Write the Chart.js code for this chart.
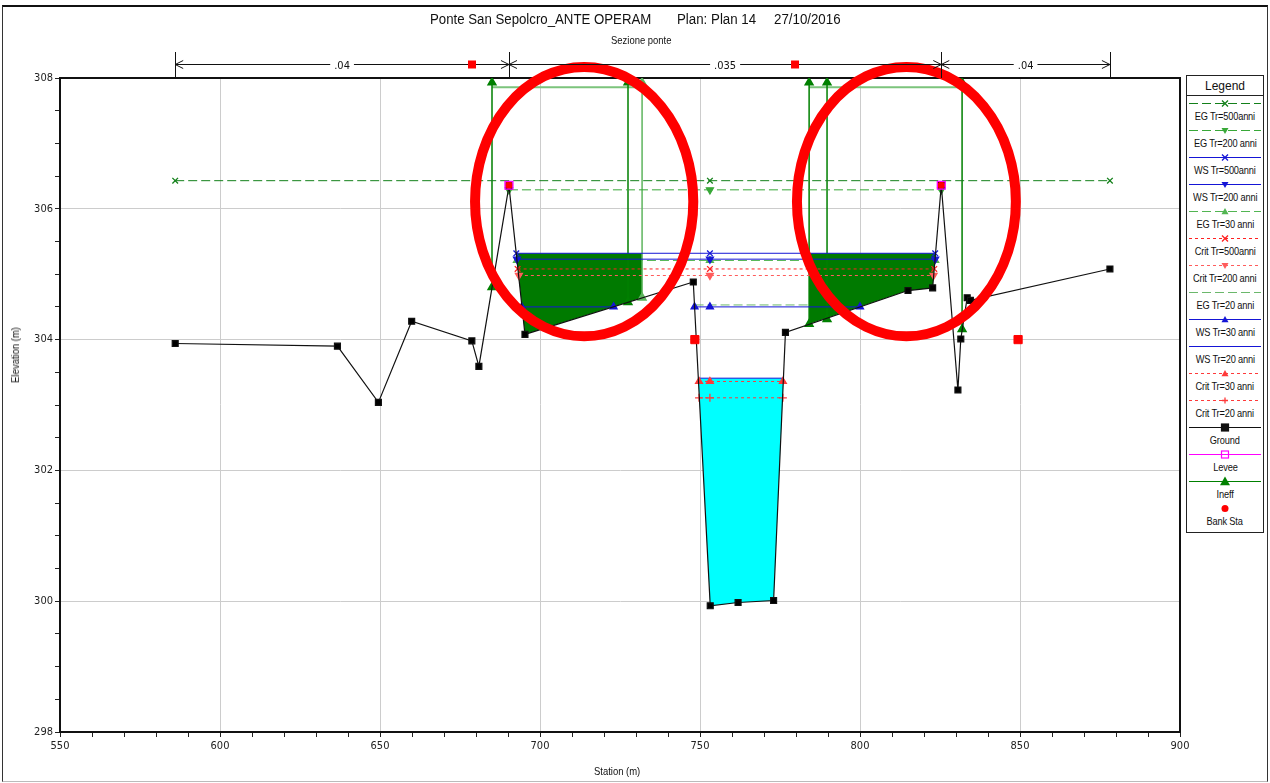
<!DOCTYPE html>
<html>
<head>
<meta charset="utf-8">
<title>Ponte San Sepolcro - Sezione ponte</title>
<script src="https://cdn.jsdelivr.net/npm/chart.js@4.4.1/dist/chart.umd.min.js"></script>
<style>
  html, body { margin: 0; padding: 0; background: #fff; }
  #page { position: relative; width: 1270px; height: 783px; overflow: hidden; font-family: 'Liberation Sans', Arial, sans-serif; color: #111; }
  #frame { position: absolute; left: 2px; top: 5px; width: 1266px; height: 777px; box-sizing: border-box; border: 1px solid #333; border-top: 2px solid #111; border-bottom-color: #bbb; }
  #chart { position: absolute; left: 0; top: 0; }
  .txt { position: absolute; white-space: nowrap; }
  .sq { display: inline-block; transform: scaleX(0.86); transform-origin: left center; }
  .ttl { top: 11px; font-size: 14px; }
  #legend { position: absolute; left: 1186px; top: 75px; width: 78px; height: 458px; box-sizing: border-box; border: 1px solid #222; background: #fff; }
  #legend .head { height: 20px; line-height: 20px; text-align: center; font-size: 12px; border-bottom: 1px solid #222; box-sizing: border-box; }
  .item { position: relative; height: 27px; }
  .item svg { position: absolute; left: 0; top: 2px; }
  .item .lab { position: absolute; left: 0; right: 0; top: 13px; display: flex; justify-content: center; font-size: 11px; line-height: 14px; white-space: nowrap; }
  .item .lab span { display: inline-block; transform: scaleX(0.84); letter-spacing: -0.2px; }
</style>
</head>
<body>
<div id="page">
  <div id="frame"></div>
  <canvas id="chart" width="1270" height="783"></canvas>
  <div class="txt ttl" style="left:430px"><span class="sq" style="transform:scaleX(0.945)">Ponte San Sepolcro_ANTE OPERAM</span></div>
  <div class="txt ttl" style="left:677px"><span class="sq" style="transform:scaleX(0.95)">Plan: Plan 14</span></div>
  <div class="txt ttl" style="left:774px"><span class="sq" style="transform:scaleX(0.95)">27/10/2016</span></div>
  <div class="txt" style="left:611px;top:34px;font-size:11px"><span class="sq">Sezione ponte</span></div>
  <div class="txt" style="left:15px;top:355px;font-size:11px;transform:translate(-50%,-50%) rotate(-90deg)"><span style="display:inline-block;transform:scaleX(0.86)">Elevation (m)</span></div>
  <div class="txt" style="left:594px;top:765px;font-size:11px"><span class="sq">Station (m)</span></div>
  <div id="legend"><div class="head">Legend</div><div id="items"></div></div>
</div>
<script>
// ground profile of the bridge section
const groundSta  = [586.0, 636.7, 649.5, 659.9, 678.7, 680.9, 690.3, 695.3, 747.9, 753.2, 761.9, 773.0, 776.7, 815.0, 822.7, 825.4, 830.6, 831.5, 833.5, 834.5, 878.1];
const groundElev = [303.94, 303.90, 303.04, 304.28, 303.98, 303.59, 306.35, 304.08, 304.88, 299.93, 299.98, 300.01, 304.11, 304.75, 304.79, 306.36, 303.23, 304.01, 304.64, 304.60, 305.08];

// water surface / energy / critical profiles
const profileNames = ['EG Tr=500anni', 'EG Tr=200 anni', 'WS Tr=500anni', 'WS Tr=200 anni', 'EG Tr=30 anni', 'Crit Tr=500anni',
                      'Crit Tr=200 anni', 'EG Tr=20 anni', 'WS Tr=30 anni', 'WS Tr=20 anni', 'Crit Tr=30 anni', 'Crit Tr=20 anni'];
const profileElev = [306.43, 306.29, 305.32, 305.23, 305.21, 305.08, 304.98, 304.53, 304.50, 303.41, 303.36, 303.11];
const profileSta = [
  [586.0, 753.1, 878.1],
  [690.3, 753.1, 825.4],
  [692.6, 753.1, 823.5],
  [692.8, 753.1, 823.5],
  [692.8, 753.1, 823.5],
  [693.0, 753.1, 823.2],
  [693.4, 753.1, 823.0],
  [748.3, 753.1, 784.1],
  [694.3, 723.0, null, 748.3, 753.1, 800.0],
  [749.5, 776.1],
  [749.7, 753.1, 775.9],
  [749.7, 753.1, 775.9]
];

// water areas
const leftFillSta  = [692.6, 731.9, 731.9, 695.3, 692.6];
const leftFillElev = [305.32, 305.32, 304.64, 304.08, 305.32];
const rightFillSta  = [784.1, 823.5, 822.7, 815.0, 784.1, 784.1];
const rightFillElev = [305.32, 305.32, 304.79, 304.75, 304.24, 305.32];
const channelFillSta  = [749.5, 776.1, 773.0, 761.9, 753.2, 749.5];
const channelFillElev = [303.41, 303.41, 300.01, 299.98, 299.93, 303.41];

// levees, bank stations, ineffective areas
const leveeSta = [690.3, 825.4];
const leveeElev = [306.36, 306.36];
const bankSta = [690.3, 825.4];
const bankElev = [306.36, 306.36];
const bankSqSta = [748.4, 849.4];
const bankSqElev = [304.0, 304.0];
const ineffSta  = [685.0, 727.5, 784.1, 789.7, 831.9];
const ineffBase = [304.80, 304.57, 304.24, 304.31, 304.16];
const ineffLightSta  = [731.9];
const ineffLightBase = [304.64];
const ineffTop = 307.93;
const ineffBlockSta = [685.0, 731.9, null, 784.1, 831.9];
const ineffBlockElev = 307.86;

// Manning n bar
const nBreakSta = [586.0, 690.3, 825.4, 878.1];
const nValues = ['.04', '.035', '.04'];
const nBankSta = [678.75, 779.7];

// red hand-drawn ellipses (centre station/elev, radii in data units)
const markSta = [713.8, 814.5];
const markElev = [306.11, 306.11];
const markRx = [34.1, 34.2];
const markRy = [2.06, 2.06];

// styles
const profileColor = ['#13801a', '#38a838', '#1515d6', '#1515d6', '#52b552', '#ff2020', '#ff5c5c', '#6bb86b', '#1515d6', '#1515d6', '#ff3a3a', '#ff3a3a'];
const profileDash = [[9, 4], [9, 4], [], [], [9, 4], [3, 3], [3, 3], [9, 4], [], [], [3, 3], [3, 3]];
const profileMarker = ['crossRot', 'triangle', 'crossRot', 'triangle', 'triangle', 'crossRot', 'triangle', false, 'triangle', false, 'triangle', 'cross'];
const profileRot = [0, 180, 0, 180, 0, 0, 180, 0, 0, 0, 0, 0];
const profileOrder = [30, 30, 28, 28, 60, 26, 26, 60, 28, 28, 26, 26];

const tickFamily = "'Liberation Sans Narrow','Arial Narrow','DejaVu Sans Condensed',sans-serif";

function pts(xs, ys) {
  return xs.map((x, i) => ({ x: x, y: x === null ? null : (Array.isArray(ys) ? ys[i] : ys) }));
}
function vertPts(xs, bases, top) {
  const out = [];
  xs.forEach((x, i) => { out.push({ x: x, y: bases[i] }, { x: x, y: top }, { x: null, y: null }); });
  return out;
}

const datasets = [];
const legendSpec = [];

profileNames.forEach((name, i) => {
  datasets.push({
    label: name, data: pts(profileSta[i], profileElev[i]),
    borderColor: profileColor[i], backgroundColor: profileColor[i], borderWidth: 1, borderDash: profileDash[i],
    pointStyle: profileMarker[i] || 'circle', pointRadius: profileMarker[i] ? 4 : 0, pointRotation: profileRot[i],
    pointBorderWidth: 1.3, order: profileOrder[i]
  });
  legendSpec.push({ label: name, color: profileColor[i], dash: profileDash[i], marker: profileMarker[i], rot: profileRot[i], line: true });
});

datasets.push({ label: 'fillL', data: pts(leftFillSta, leftFillElev), fill: 'shape', backgroundColor: '#007a00', borderWidth: 0, pointRadius: 0, order: 50 });
datasets.push({ label: 'fillR', data: pts(rightFillSta, rightFillElev), fill: 'shape', backgroundColor: '#007a00', borderWidth: 0, pointRadius: 0, order: 50 });
datasets.push({ label: 'fillC', data: pts(channelFillSta, channelFillElev), fill: 'shape', backgroundColor: '#00ffff', borderWidth: 0, pointRadius: 0, order: 50 });

datasets.push({ label: 'Ground', data: pts(groundSta, groundElev), borderColor: '#111', backgroundColor: '#000', borderWidth: 1.2,
  pointStyle: 'rect', pointRadius: 4.2, order: 20 });
legendSpec.push({ label: 'Ground', color: '#111', dash: [], marker: 'rect', line: true });

datasets.push({ label: 'Levee', data: pts(leveeSta, leveeElev), showLine: false, borderColor: '#ff00ff', backgroundColor: 'rgba(0,0,0,0)',
  pointStyle: 'rect', pointRadius: 5.6, pointBorderWidth: 1.3, order: 10 });
legendSpec.push({ label: 'Levee', color: '#ff00ff', dash: [], marker: 'rect', hollow: true, line: true });

datasets.push({ label: 'Ineff', data: vertPts(ineffSta, ineffBase, ineffTop), borderColor: '#008000', backgroundColor: '#008000', borderWidth: 1.5,
  pointStyle: 'triangle', pointRadius: 4.5, order: 44 });
datasets.push({ label: 'IneffLight', data: vertPts(ineffLightSta, ineffLightBase, ineffTop), borderColor: '#5db55d', backgroundColor: '#5db55d', borderWidth: 1.5,
  pointStyle: 'triangle', pointRadius: 4.5, order: 45 });
datasets.push({ label: 'IneffTop', data: pts(ineffBlockSta, ineffBlockElev), borderColor: '#7cc47c', borderWidth: 2, pointRadius: 0, order: 46 });
legendSpec.push({ label: 'Ineff', color: '#008000', dash: [], marker: 'triangle', big: true, line: true });

datasets.push({ label: 'Bank Sta', data: pts(bankSta, bankElev), showLine: false, backgroundColor: '#ff0000', borderColor: '#ff0000',
  pointStyle: 'circle', pointRadius: 3.3, order: 12 });
datasets.push({ label: 'BankSq', data: pts(bankSqSta, bankSqElev), showLine: false, backgroundColor: '#ff0000', borderColor: '#ff0000',
  pointStyle: 'rect', pointRadius: 5.8, order: 15 });
legendSpec.push({ label: 'Bank Sta', color: '#ff0000', marker: 'circle', line: false });

// ---- legend (HTML) ----
function markerSvg(spec, cx, cy) {
  const c = spec.color, r = spec.big ? 5 : 3.5;
  switch (spec.marker) {
    case 'crossRot': return `<path d="M${cx - 3} ${cy - 3}L${cx + 3} ${cy + 3}M${cx + 3} ${cy - 3}L${cx - 3} ${cy + 3}" stroke="${c}" stroke-width="1.3"/>`;
    case 'cross': return `<path d="M${cx - 3} ${cy}L${cx + 3} ${cy}M${cx} ${cy - 3}L${cx} ${cy + 3}" stroke="${c}" stroke-width="1.3"/>`;
    case 'triangle': {
      const s = spec.rot === 180 ? -1 : 1;
      return `<polygon points="${cx},${cy - s * r} ${cx - r},${cy + s * r * 0.75} ${cx + r},${cy + s * r * 0.75}" fill="${c}"/>`;
    }
    case 'rect': return `<rect x="${cx - 3.5}" y="${cy - 3.5}" width="7" height="7" fill="${spec.hollow ? 'none' : c}" stroke="${c}" stroke-width="1.2"/>`;
    case 'circle': return `<circle cx="${cx}" cy="${cy}" r="3.5" fill="${c}"/>`;
  }
  return '';
}
const itemsEl = document.getElementById('items');
legendSpec.forEach(spec => {
  const cy = 5.5;
  let svg = `<svg width="76" height="12" xmlns="http://www.w3.org/2000/svg">`;
  if (spec.line) svg += `<line x1="2" y1="${cy}" x2="74" y2="${cy}" stroke="${spec.color}" stroke-width="1.2" stroke-dasharray="${spec.dash.length ? spec.dash.join(',') : 'none'}"/>`;
  svg += markerSvg(spec, 38, cy) + '</svg>';
  const div = document.createElement('div');
  div.className = 'item';
  div.innerHTML = svg + `<div class="lab"><span>${spec.label}</span></div>`;
  itemsEl.appendChild(div);
});

// ---- plugins ----
const plotBox = {
  id: 'plotBox',
  beforeDatasetsDraw(chart) {
    const { ctx, chartArea: a } = chart;
    ctx.save();
    ctx.strokeStyle = '#111';
    ctx.lineWidth = 2;
    ctx.beginPath();
    ctx.moveTo(a.left, a.top); ctx.lineTo(a.right, a.top); ctx.lineTo(a.right, a.bottom);
    ctx.stroke();
    ctx.restore();
  }
};

const redMarks = {
  id: 'redMarks',
  afterDatasetsDraw(chart) {
    const { ctx } = chart, xs = chart.scales.x, ys = chart.scales.y;
    const pxX = xs.getPixelForValue(551) - xs.getPixelForValue(550);
    const pxY = ys.getPixelForValue(300) - ys.getPixelForValue(301);
    ctx.save();
    ctx.strokeStyle = '#ff0000';
    ctx.lineWidth = 10;
    markSta.forEach((s, i) => {
      ctx.beginPath();
      ctx.ellipse(xs.getPixelForValue(s), ys.getPixelForValue(markElev[i]), markRx[i] * pxX, markRy[i] * pxY, 0, 0, Math.PI * 2);
      ctx.stroke();
    });
    ctx.restore();
  }
};

const manningBar = {
  id: 'manningBar',
  afterDraw(chart) {
    const { ctx } = chart, xs = chart.scales.x, top = chart.chartArea.top;
    const yLine = top - 13.5, yTick = top - 26;
    ctx.save();
    ctx.strokeStyle = '#111';
    ctx.lineWidth = 1;
    ctx.font = "11px " + tickFamily;
    ctx.fillStyle = '#111';
    ctx.textAlign = 'center';
    ctx.textBaseline = 'middle';
    nBreakSta.forEach(s => {
      const px = Math.round(xs.getPixelForValue(s)) + 0.5;
      ctx.beginPath(); ctx.moveTo(px, yTick); ctx.lineTo(px, top); ctx.stroke();
    });
    nValues.forEach((v, i) => {
      const x0 = xs.getPixelForValue(nBreakSta[i]), x1 = xs.getPixelForValue(nBreakSta[i + 1]);
      const mid = (x0 + x1) / 2, w = ctx.measureText(v).width / 2 + 4;
      ctx.beginPath();
      ctx.moveTo(x0, yLine); ctx.lineTo(mid - w, yLine);
      ctx.moveTo(mid + w, yLine); ctx.lineTo(x1, yLine);
      ctx.moveTo(x0 + 8, yLine - 4); ctx.lineTo(x0, yLine); ctx.lineTo(x0 + 8, yLine + 4);
      ctx.moveTo(x1 - 8, yLine - 4); ctx.lineTo(x1, yLine); ctx.lineTo(x1 - 8, yLine + 4);
      ctx.stroke();
      ctx.fillText(v, mid, yLine + 1.5);
    });
    ctx.fillStyle = '#ff0000';
    nBankSta.forEach(s => {
      const px = xs.getPixelForValue(s);
      ctx.fillRect(px - 4, yLine - 4, 8, 8);
    });
    ctx.restore();
  }
};

function isMajor(c, step) {
  return c.tick && Math.abs(c.tick.value / step - Math.round(c.tick.value / step)) < 1e-6;
}
const tickFont = { family: tickFamily, size: 11 };

new Chart(document.getElementById('chart').getContext('2d'), {
  type: 'line',
  data: { datasets: datasets },
  plugins: [plotBox, redMarks, manningBar],
  options: {
    responsive: false,
    animation: false,
    devicePixelRatio: 1,
    layout: { padding: { top: 78, right: 90, left: 0, bottom: 0 } },
    plugins: { legend: { display: false }, tooltip: { enabled: false } },
    elements: { line: { tension: 0 } },
    scales: {
      x: {
        type: 'linear', min: 550, max: 900,
        afterFit: s => { s.height = 51; },
        ticks: { stepSize: 10, autoSkip: false, maxRotation: 0, padding: 3, color: '#222', font: tickFont,
                 callback: v => (isMajor({ tick: { value: v } }, 50) ? String(Math.round(v)) : '') },
        grid: { color: c => (isMajor(c, 50) ? '#cccccc' : 'rgba(0,0,0,0)'), tickColor: '#222', tickLength: 5, lineWidth: 1 },
        border: { display: true, color: '#111', width: 2 }
      },
      y: {
        type: 'linear', min: 298, max: 308,
        afterFit: s => { s.width = 60; },
        ticks: { stepSize: 0.5, autoSkip: false, padding: 2, color: '#222', font: tickFont,
                 callback: v => (isMajor({ tick: { value: v } }, 2) ? String(Math.round(v)) : '') },
        grid: { color: c => (isMajor(c, 2) ? '#cccccc' : 'rgba(0,0,0,0)'), tickColor: '#222', tickLength: 5, lineWidth: 1 },
        border: { display: true, color: '#111', width: 2 }
      }
    }
  }
});
</script>
</body>
</html>
